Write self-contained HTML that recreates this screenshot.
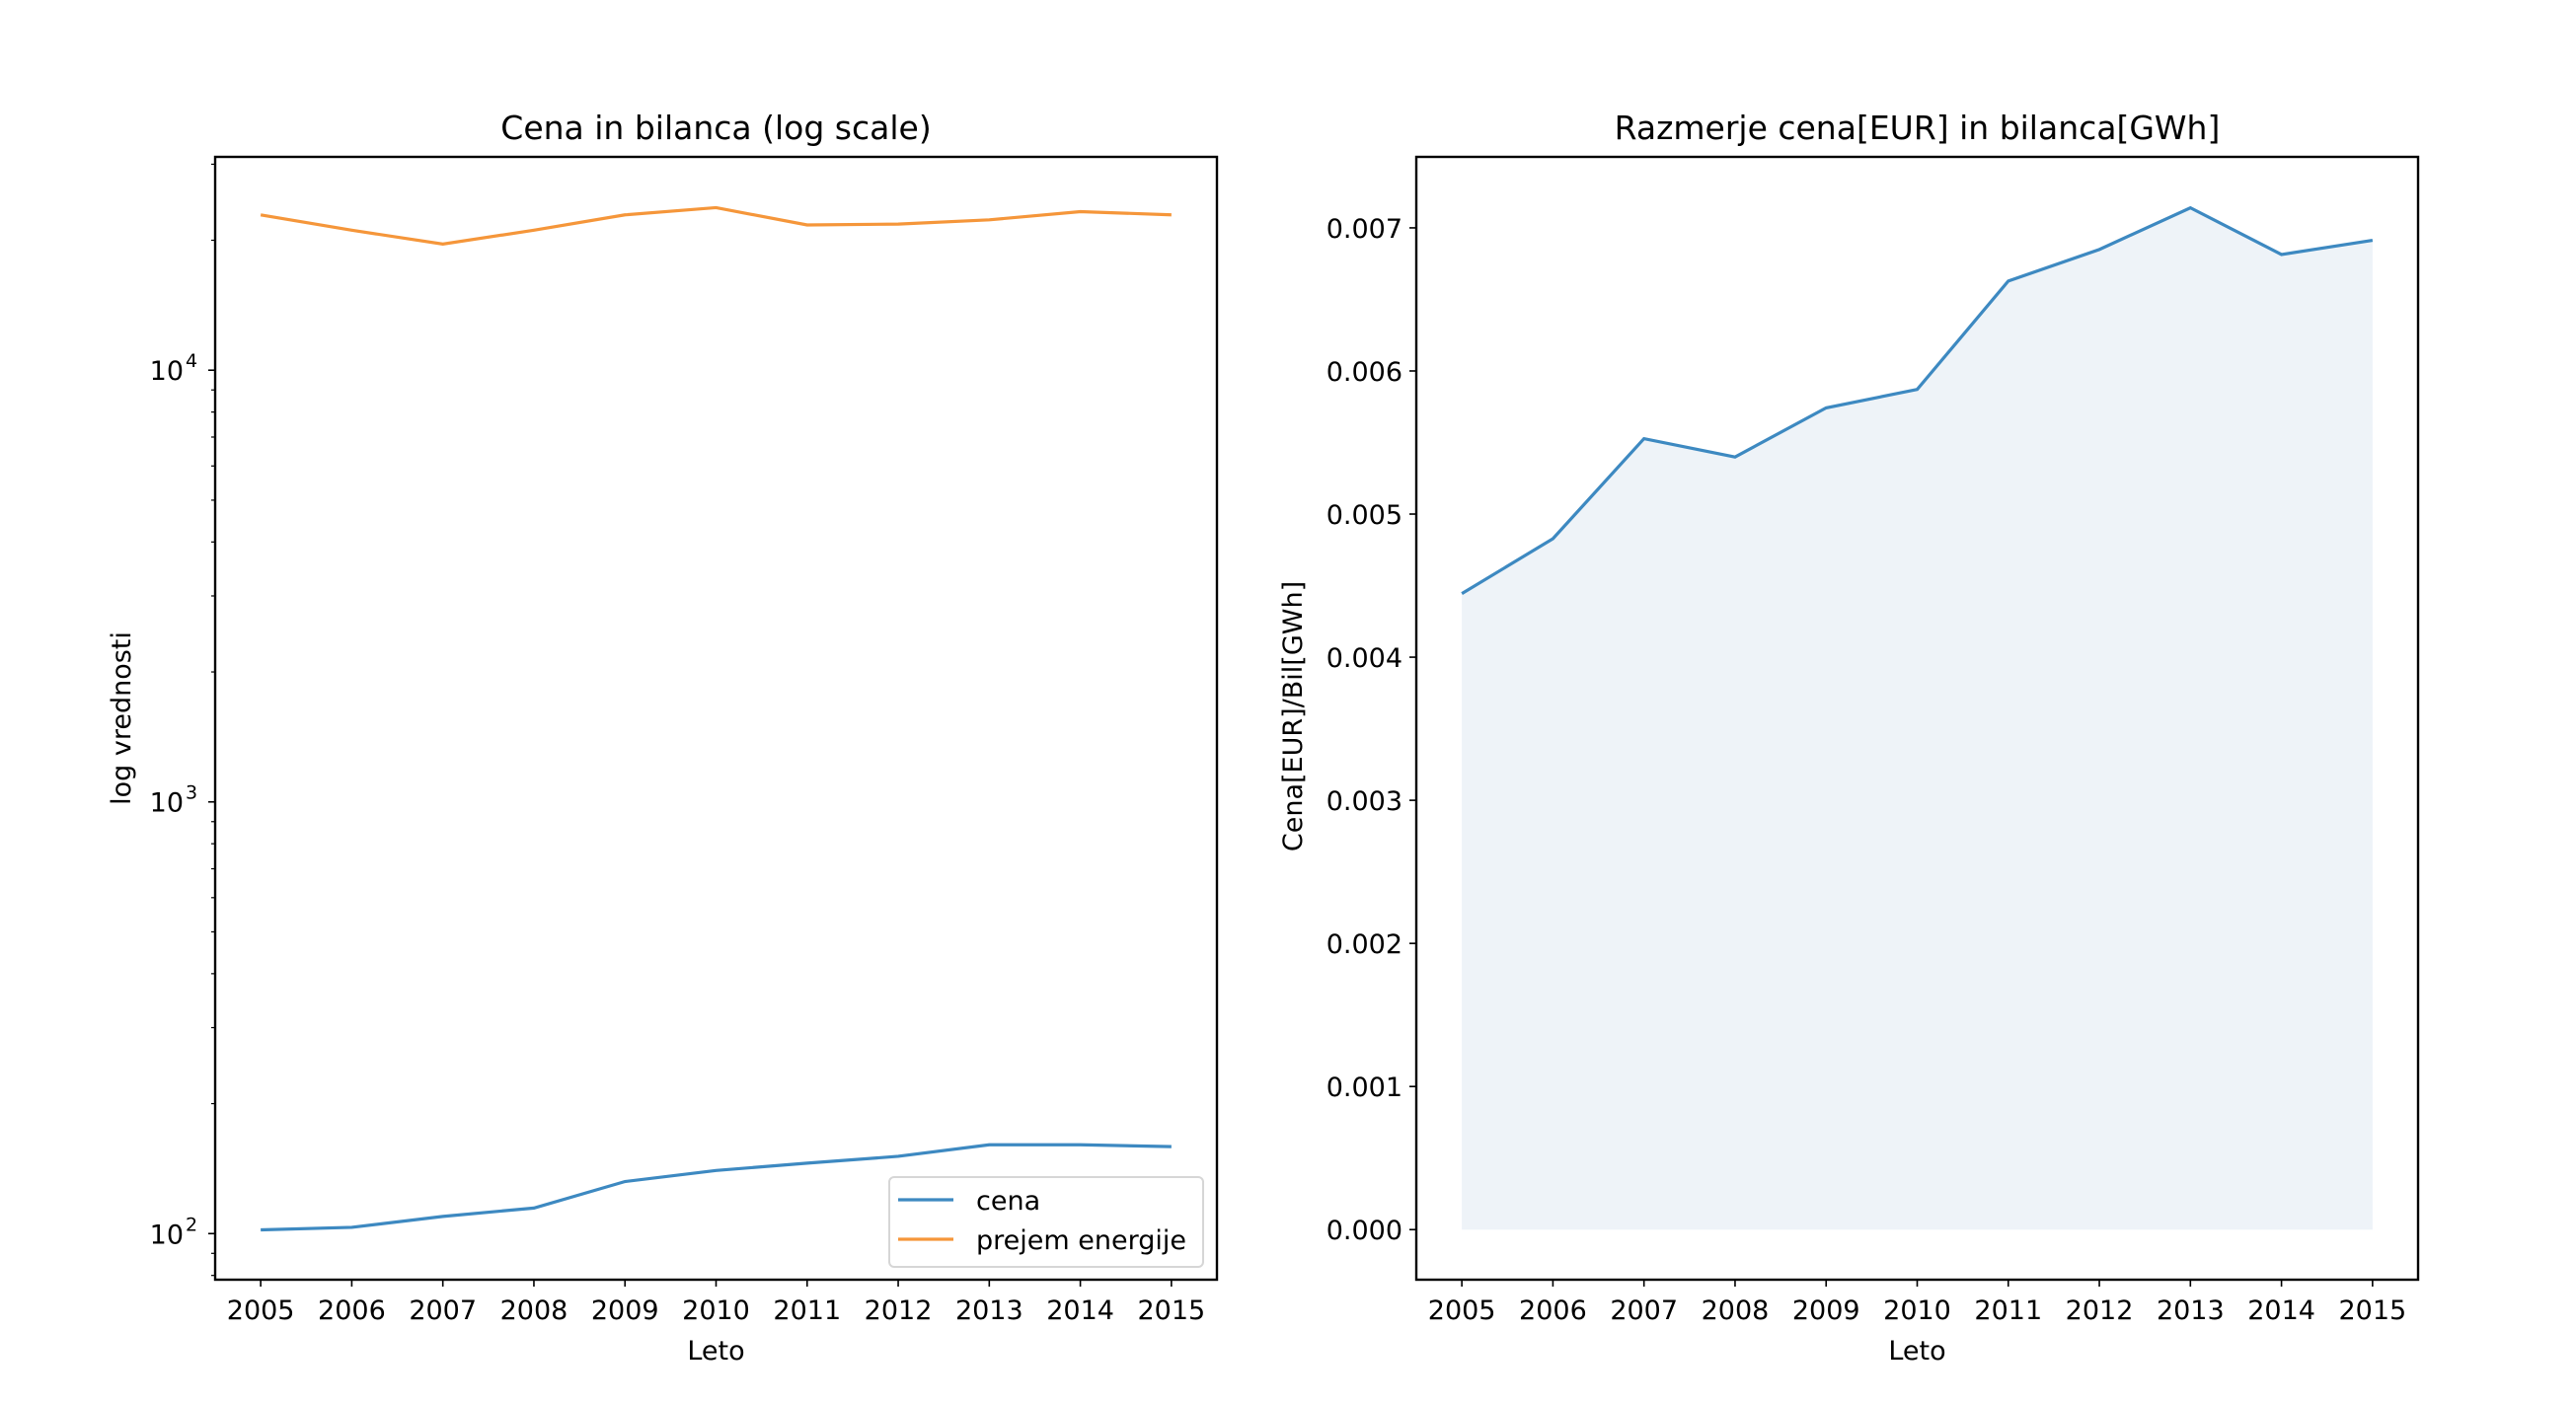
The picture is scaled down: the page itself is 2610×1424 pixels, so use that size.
<!DOCTYPE html>
<html><head><meta charset="utf-8"><style>
html,body{margin:0;padding:0;background:#fff;}
svg{display:block;font-family:"DejaVu Sans","Liberation Sans",sans-serif;}
</style></head><body>
<svg id="fig" width="2610" height="1424" viewBox="0 0 2610 1424" xmlns="http://www.w3.org/2000/svg">
<rect width="2610" height="1424" fill="#fff"/>
<g id="left"></g>
<g id="right"></g>
</svg>
<script>
const years = [2005,2006,2007,2008,2009,2010,2011,2012,2013,2014,2015];
const cena = [102,103.4,109.6,114.6,132,140,145.6,151,160.6,160.6,159];
const prejem = [22900,21100,19600,21100,22900,23800,21700,21800,22300,23300,22900];
const ratio = [0.004444,0.004828,0.005527,0.005399,0.005742,0.005871,0.006628,0.006849,0.007140,0.006814,0.006913];
const ratioTicks = [0,0.001,0.002,0.003,0.004,0.005,0.006,0.007];
const logMajor = [2,3,4];

const NS='http://www.w3.org/2000/svg';
function mk(parent,tag,attrs,text){const e=document.createElementNS(NS,tag);for(const k in attrs)e.setAttribute(k,attrs[k]);if(text!==undefined)e.textContent=text;parent.appendChild(e);return e;}
const T=159,B=1297,W=1015;
const BLUE='#3d89c1',ORANGE='#f5963a';

function xAxis(g,L){
  const xs=y=>L+W*(y-2004.5)/11;
  years.forEach(y=>{
    mk(g,'line',{x1:xs(y),x2:xs(y),y1:B,y2:B+7,stroke:'#000','stroke-width':1.6});
    const t=mk(g,'text',{x:xs(y),y:1337,'font-size':27,'text-anchor':'middle',fill:'#000'},String(y));
    
    
  });
  const lt=mk(g,'text',{x:L+W/2,y:1378,'font-size':27,'text-anchor':'middle'},'Leto');
  
  
  return xs;
}

// LEFT (log)
(function(){
  const g=document.getElementById('left'),L=218;
  const lmin=Math.log10(78.2),lmax=Math.log10(31200);
  const ys=v=>B-(B-T)*(Math.log10(v)-lmin)/(lmax-lmin);
  const xs=xAxis(g,L);
  for(let e=1;e<=4;e++)for(let m=2;m<=9;m++){const v=m*Math.pow(10,e);if(v<78.2||v>31200)continue;
    mk(g,'line',{x1:L-4,x2:L,y1:ys(v),y2:ys(v),stroke:'#000','stroke-width':1.2});}
  logMajor.forEach(p=>{const y=ys(Math.pow(10,p));
    mk(g,'line',{x1:L-7,x2:L,y1:y,y2:y,stroke:'#000','stroke-width':1.6});
    const t=mk(g,'text',{x:186,y:y+10,'font-size':27,'text-anchor':'end'},'10');
    
    
    mk(g,'text',{x:188,y:y-3,'font-size':19,'text-anchor':'start'},String(p));
  });
  const pl=(arr,c,n)=>{const p=mk(g,'polyline',{points:arr.map((v,i)=>xs(years[i])+','+ys(v)).join(' '),fill:'none',stroke:c,'stroke-width':3.2});
    };
  pl(cena,BLUE,'cena-line');pl(prejem,ORANGE,'prejem-line');
  mk(g,'rect',{x:L,y:T,width:W,height:B-T,fill:'none',stroke:'#000','stroke-width':2.4});
  const tt=mk(g,'text',{x:L+W/2,y:141,'font-size':33,'text-anchor':'middle'},'Cena in bilanca (log scale)');
  
  const yl=mk(g,'text',{x:0,y:0,'font-size':27,'text-anchor':'middle',transform:'translate(132,728) rotate(-90)'},'log vrednosti');
  
  const lg=mk(g,'g',{});
  mk(lg,'rect',{x:901,y:1193,width:318,height:91,rx:5,fill:'#fff',stroke:'#d6d6d6','stroke-width':2});
  mk(lg,'line',{x1:910,x2:966,y1:1216,y2:1216,stroke:BLUE,'stroke-width':3.2});
  mk(lg,'text',{x:989,y:1226,'font-size':27},'cena');
  mk(lg,'line',{x1:910,x2:966,y1:1256,y2:1256,stroke:ORANGE,'stroke-width':3.2});
  mk(lg,'text',{x:989,y:1266,'font-size':27},'prejem energije');
})();

// RIGHT (linear)
(function(){
  const g=document.getElementById('right'),L=1435;
  const vmin=-0.000350,vmax=0.007496;
  const ys=v=>B-(B-T)*(v-vmin)/(vmax-vmin);
  const xs=xAxis(g,L);
  const pts=ratio.map((v,i)=>xs(years[i])+','+ys(v));
  const f=mk(g,'polygon',{points:pts.join(' ')+' '+xs(years[years.length-1])+','+ys(0)+' '+xs(years[0])+','+ys(0),fill:'#eef3f8'});
  
  const p=mk(g,'polyline',{points:pts.join(' '),fill:'none',stroke:BLUE,'stroke-width':3.2});
  
  ratioTicks.forEach(v=>{const y=ys(v);
    mk(g,'line',{x1:L-7,x2:L,y1:y,y2:y,stroke:'#000','stroke-width':1.6});
    const t=mk(g,'text',{x:1421,y:y+10,'font-size':27,'text-anchor':'end'},v.toFixed(3));
    
  });
  mk(g,'rect',{x:L,y:T,width:W,height:B-T,fill:'none',stroke:'#000','stroke-width':2.4});
  const tt=mk(g,'text',{x:L+W/2,y:141,'font-size':33,'text-anchor':'middle'},'Razmerje cena[EUR] in bilanca[GWh]');
  
  const yl=mk(g,'text',{x:0,y:0,'font-size':27,'text-anchor':'middle',transform:'translate(1319,726) rotate(-90)'},'Cena[EUR]/Bil[GWh]');
  
})();
</script>
</body></html>
